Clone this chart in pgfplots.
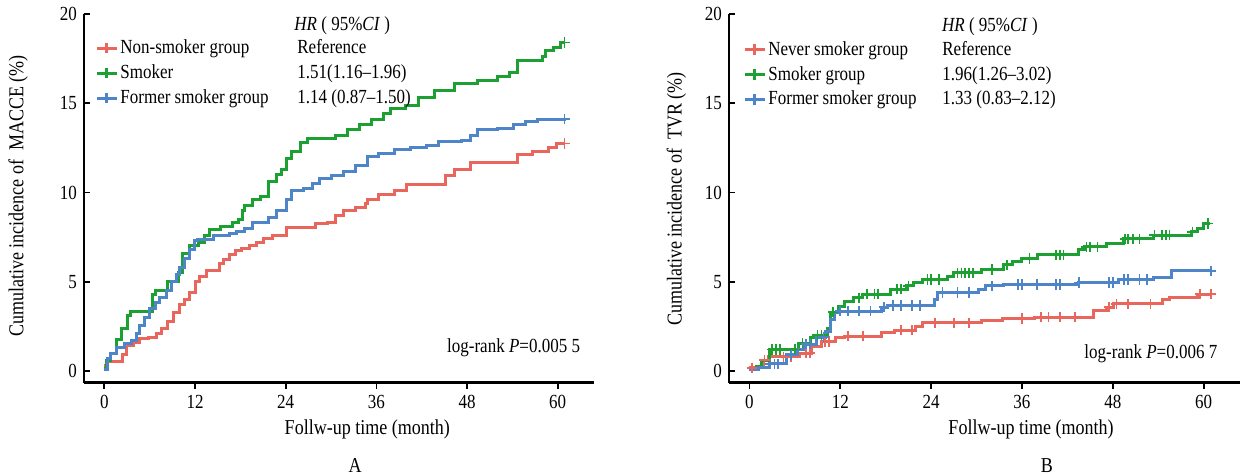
\documentclass[border=0pt]{standalone}
\usepackage{fontspec}
\setmainfont{Liberation Serif}[FakeStretch=0.85]
\usepackage{pgfplots}
\pgfplotsset{compat=1.18}

\definecolor{kmred}{RGB}{232,102,92}
\definecolor{kmgreen}{RGB}{28,160,50}
\definecolor{kmblue}{RGB}{78,132,200}

\pgfplotsset{
  kmaxis/.style={
    scale only axis, width=255pt, height=184.35pt,
    xmin=-2.7, xmax=64.8, ymin=-0.66, ymax=20,
    axis x line=bottom, axis y line=left,
    axis line style={-, line width=1.25pt},
    xtick={0,12,...,60}, ytick={0,5,...,20},
    tick style={black, line width=0.9pt},
    major tick length=3pt, tick align=inside,
    xtick style={yshift=-3pt},
    x tick label style={yshift=-2.7pt},
    /pgf/number format/assume math mode=true,
    clip=false,
    legend cell align=left,
    legend style={draw=none, fill=none, anchor=north west, inner sep=0pt,
      row sep=2pt, column sep=1pt, nodes={inner xsep=0pt, inner ysep=1pt}},
    legend image code/.code={\draw[#1, mark repeat=2, mark phase=2]
      plot coordinates {(0pt,0pt) (5pt,0pt) (10pt,0pt)};},
  },
  km/.style={const plot, line width=1.5pt, no marks, forget plot, #1},
  cens/.style={only marks, mark=+, mark size=2.6pt, line width=0.8pt, forget plot, #1},
  leg/.style={color=#1, line width=1.5pt, mark=+, mark size=2.6pt},
}
\newcommand{\lab}{\fontsize{10.6}{12}\selectfont}

\begin{document}
\fontsize{10}{12}\selectfont
\begin{tikzpicture}
\useasboundingbox (0,0) rectangle (624pt,238pt);

% ---------------- A: MACCE ----------------
\begin{axis}[kmaxis, at={(42pt,46.65pt)}, anchor=south west,
  legend style={at={(0.0216,0.937)}}]
\addlegendimage{leg=kmred}
\addlegendentry{\makebox[88.5pt][l]{Non-smoker group}Reference}
\addlegendimage{leg=kmgreen}
\addlegendentry{\makebox[88.5pt][l]{Smoker}1.51(1.16--1.96)}
\addlegendimage{leg=kmblue}
\addlegendentry{\makebox[88.5pt][l]{Former smoker group}1.14 (0.87--1.50)}

\addplot[km=kmred] coordinates {
 (0,0.3) (0.4,0.5) (2.4,0.9) (2.9,1.4) (3.8,1.6) (4.7,1.8) (5.8,1.9)
 (6.9,2.1) (7.5,2.4) (8.4,2.75) (9.1,3.3) (10.0,3.7) (10.6,4.0) (11.3,4.4)
 (12.0,5.0) (12.6,5.3) (13.5,5.6) (15.2,6.0) (15.8,6.25) (16.5,6.55)
 (17.4,6.75) (18.1,6.85) (19.2,7.0) (20.1,7.2) (21.0,7.4) (22.2,7.6)
 (24.1,8.06) (28.0,8.24) (29.5,8.33) (30.6,8.7) (31.6,8.97) (33.2,9.16)
 (34.5,9.4) (34.8,9.6) (36.3,9.9) (38.4,10.1) (40.0,10.47) (45.2,10.95)
 (46.3,11.3) (48.4,11.7) (54.7,12.1) (56.7,12.3) (58.8,12.5) (59.9,12.75)
 (60.9,12.75)};
\addplot[km=kmgreen] coordinates {
 (0,0.15) (0.3,0.6) (0.8,1.0) (1.6,1.76) (2.3,2.4) (3.0,3.1) (3.4,3.35)
 (6.3,4.3) (6.7,4.5) (8.3,5.0) (9.8,5.5) (10.4,6.6) (11.2,7.0) (12.5,7.2)
 (13.3,7.6) (13.9,7.9) (15.4,8.1) (17.0,8.3) (17.8,8.5) (18.3,9.0)
 (18.6,9.25) (19.6,9.6) (20.7,9.8) (21.7,10.6) (22.8,11.0) (23.5,11.3)
 (24.1,11.9) (24.8,12.3) (25.9,12.8) (26.9,13.0) (30.6,13.2) (32.2,13.5)
 (33.7,13.8) (35.3,14.1) (36.9,14.4) (37.9,14.7) (39.9,14.9) (41.6,15.3)
 (43.7,15.7) (46.3,16.1) (49.4,16.25) (52.0,16.5) (53.6,16.7) (54.7,17.4)
 (58.0,17.6) (58.4,17.95) (59.4,18.1) (60.4,18.4) (60.9,18.4)};
\addplot[km=kmblue] coordinates {
 (0,0.1) (0.4,0.7) (0.8,1.0) (1.6,1.3) (2.7,1.55) (3.6,1.7) (4.3,2.1)
 (4.7,2.55) (5.3,3.0) (6.0,3.5) (6.7,3.85) (7.3,4.1) (8.2,4.5) (8.9,5.0)
 (9.5,5.4) (10.0,5.8) (10.6,6.3) (11.3,6.8) (11.9,7.3) (12.3,7.35)
 (14.4,7.6) (16.5,7.7) (17.5,7.8) (18.6,7.97) (19.6,8.33) (21.7,8.6)
 (22.8,9.0) (24.1,9.6) (24.8,10.1) (26.4,10.2) (27.5,10.5) (28.5,10.76)
 (30.1,10.95) (31.6,11.2) (33.2,11.5) (34.8,12.0) (36.3,12.2) (38.4,12.4)
 (40.5,12.5) (42.6,12.65) (44.2,12.85) (47.3,12.9) (48.4,13.2) (49.4,13.5)
 (52.0,13.6) (54.1,13.8) (55.7,13.98) (57.3,14.07) (60.9,14.1)};
\addplot[cens=kmred] coordinates {(60.9,12.75)};
\addplot[cens=kmgreen] coordinates {(60.9,18.4)};
\addplot[cens=kmblue] coordinates {(60.9,14.1)};

\node[anchor=west, inner sep=0pt] at (axis cs:25.1,19.35) {\textit{HR} ( 95\%\textit{CI} )};
\node[anchor=east, inner sep=0pt] at (axis cs:63.0,1.3) {log-rank \textit{P}=0.005 5};
\node[rotate=90, font=\lab] at (axis cs:-11.4,9.8) {Cumulative incidence of \ MACCE (\%)};
\node[font=\lab] at (axis cs:34.8,-3.3) {Follw-up time (month)};
\node[font=\lab] at (axis cs:33.2,-5.3) {A};
\end{axis}

% ---------------- B: TVR ----------------
\begin{axis}[kmaxis, at={(364.5pt,46.65pt)}, anchor=south west, width=255.5pt,
  legend style={at={(0.0274,0.933)}}]
\addlegendimage{leg=kmred}
\addlegendentry{\makebox[87pt][l]{Never smoker group}Reference}
\addlegendimage{leg=kmgreen}
\addlegendentry{\makebox[87pt][l]{Smoker group}1.96(1.26--3.02)}
\addlegendimage{leg=kmblue}
\addlegendentry{\makebox[87pt][l]{Former smoker group}1.33 (0.83--2.12)}

\addplot[km=kmred] coordinates {
 (0,0.18) (1.2,0.27) (1.8,0.6) (2.5,0.78) (6.6,1.0) (8.2,1.35) (9.5,1.65)
 (11.4,1.85) (12.6,1.95) (17.5,2.15) (19.1,2.29) (22.0,2.5) (22.8,2.7)
 (30.7,2.8) (33.4,2.93) (37.6,3.02) (45.5,3.39) (47.1,3.57) (48.1,3.75)
 (54.5,4.0) (55.5,4.12) (59.2,4.3) (61.0,4.3)};
\addplot[km=kmgreen] coordinates {
 (0,0.1) (0.9,0.25) (1.6,0.6) (2.7,1.2) (6.5,1.55) (8.0,1.85) (8.8,2.0)
 (10.3,2.4) (10.7,3.3) (11.8,3.6) (12.6,3.9) (13.8,4.1) (14.9,4.3)
 (18.6,4.58) (20.7,4.76) (21.7,4.95) (22.8,5.13) (26.2,5.31) (27.0,5.5)
 (30.7,5.68) (33.6,5.95) (34.7,6.14) (36.0,6.3) (38.1,6.5) (43.4,6.78)
 (44.2,6.96) (47.1,7.14) (49.4,7.4) (53.4,7.6) (58.4,7.8) (59.2,7.97)
 (60.0,8.25) (60.8,8.25)};
\addplot[km=kmblue] coordinates {
 (0,0.1) (1.2,0.2) (2.7,0.4) (4.9,0.9) (6.4,1.2) (7.1,1.5) (8.9,1.9)
 (10.0,2.2) (10.7,2.9) (11.2,3.25) (11.7,3.35) (17.5,3.57) (18.3,3.66)
 (24.4,4.0) (24.9,4.4) (30.2,4.58) (31.2,4.76) (33.6,4.85) (43.4,4.95)
 (48.7,5.13) (53.4,5.22) (55.8,5.6) (61.0,5.6)};

\addplot[cens=kmred] coordinates {
 (0.3,0.18) (2.0,0.6) (4.5,0.78) (5.5,0.78) (7.5,1.0) (8.0,1.0) (10.0,1.65)
 (10.5,1.65) (13.0,1.95) (15.0,1.95) (20.0,2.29) (21.5,2.29) (24.5,2.7)
 (27.0,2.7) (29.0,2.7) (36.0,2.93) (38.5,3.02) (39.5,3.02) (41.0,3.02)
 (43.0,3.02) (47.5,3.57) (48.5,3.75) (50.0,3.75) (53.0,3.75) (59.5,4.3)
 (61.0,4.3)};
\addplot[cens=kmgreen] coordinates {
 (3.0,1.2) (3.5,1.2) (4.0,1.2) (6.0,1.2) (7.0,1.55) (9.0,2.0) (9.5,2.0)
 (11.0,3.3) (14.5,4.1) (15.5,4.3) (16.5,4.3) (17.0,4.3) (19.5,4.58)
 (20.0,4.58) (21.0,4.76) (23.5,5.13) (24.0,5.13) (25.0,5.13) (27.5,5.5)
 (28.0,5.5) (28.5,5.5) (29.0,5.5) (29.5,5.5) (32.0,5.68) (34.0,5.95)
 (37.0,6.3) (40.5,6.5) (41.0,6.5) (41.5,6.5) (44.5,6.96) (45.0,6.96)
 (46.0,6.96) (49.6,7.4) (50.0,7.4) (50.7,7.4) (51.5,7.4) (53.5,7.6)
 (54.5,7.6) (55.0,7.6) (55.5,7.6) (58.5,7.8) (60.6,8.25)};
\addplot[cens=kmblue] coordinates {
 (2.8,0.4) (3.3,0.4) (3.8,0.4) (5.5,0.9) (7.5,1.5) (8.0,1.5) (9.8,1.9)
 (12.0,3.35) (13.0,3.35) (14.5,3.35) (16.0,3.35) (17.8,3.57) (19.0,3.66)
 (20.0,3.66) (21.5,3.66) (22.5,3.66) (25.5,4.4) (27.5,4.4) (29.0,4.4)
 (32.0,4.76) (35.5,4.85) (36.0,4.85) (38.0,4.85) (40.5,4.85) (41.0,4.85)
 (43.5,4.95) (47.5,4.95) (48.0,4.95) (49.5,5.13) (50.0,5.13) (51.5,5.13)
 (52.5,5.13) (61.0,5.6)};

\node[anchor=west, inner sep=0pt] at (axis cs:25.4,19.3) {\textit{HR} ( 95\%\textit{CI} )};
\node[anchor=east, inner sep=0pt] at (axis cs:61.85,0.95) {log-rank \textit{P}=0.006 7};
\node[rotate=90, font=\lab] at (axis cs:-9.66,9.64) {Cumulative incidence of \ TVR (\%)};
\node[font=\lab] at (axis cs:37.2,-3.3) {Follw-up time (month)};
\node[font=\lab] at (axis cs:39.3,-5.3) {B};
\end{axis}
\end{tikzpicture}
\end{document}
